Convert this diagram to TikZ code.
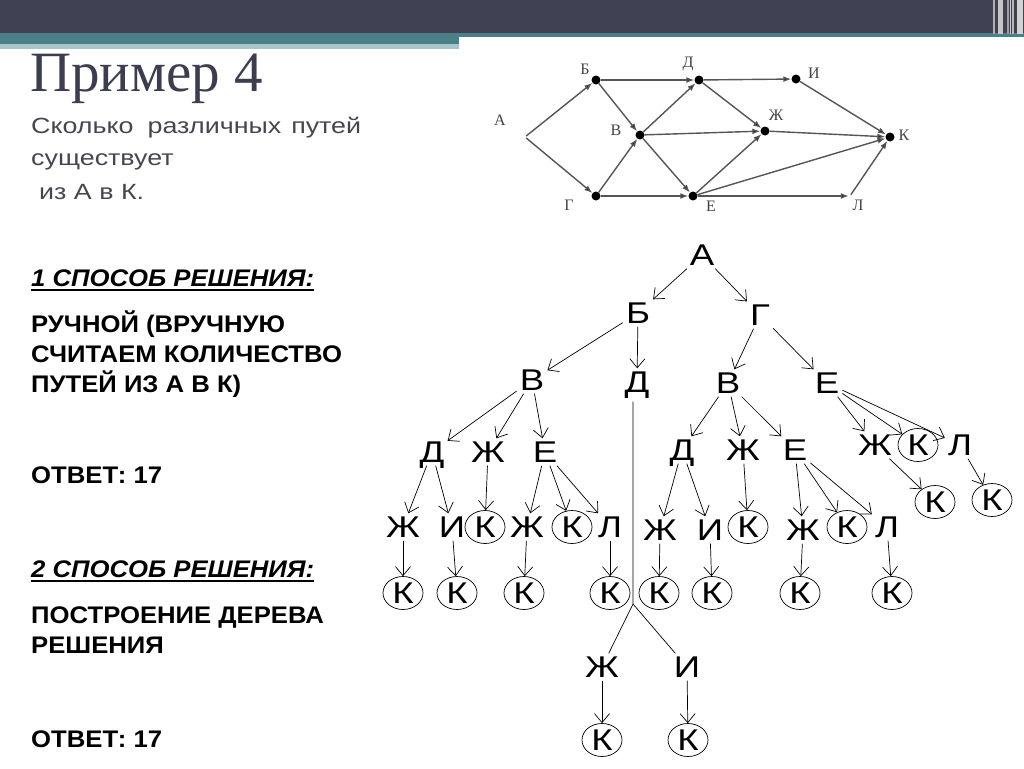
\documentclass[tikz,border=0pt]{standalone}
\usepackage{fontspec}
\setmainfont{Liberation Sans}
\newfontfamily\serifface{Liberation Serif}
\newfontfamily\wideface[FakeStretch=1.22]{Liberation Sans}
\newfontfamily\leftface[FakeStretch=1.07]{Liberation Sans}
\newfontfamily\treeface[FakeStretch=1.22]{Liberation Sans}
\usetikzlibrary{arrows.meta, positioning, shapes.geometric}
\definecolor{barslate}{HTML}{404254}
\definecolor{barteal}{HTML}{4A8088}
\definecolor{barlight}{HTML}{A9C5C7}
\definecolor{titleslate}{HTML}{3C3E4F}
\definecolor{subgray}{HTML}{45464F}
\definecolor{graphgray}{HTML}{555555}
\tikzset{
  letter/.style={font=\treeface\fontsize{30}{30}\selectfont, inner sep=3pt, text height=21pt, text depth=0pt},
  kbox/.style={letter, draw, ellipse, minimum width=40pt, minimum height=33pt, inner sep=0pt, line width=0.7pt},
  tarrow/.style={-{Straight Barb[length=9pt,width=15pt]}, line width=0.7pt},
  tline/.style={line width=0.7pt},
  gdot/.style={circle, fill=black, minimum size=9pt, inner sep=0pt},
  gpoint/.style={inner sep=0pt, minimum size=2pt},
  glabel/.style={font=\serifface\fontsize{16}{16}\selectfont, text=graphgray!80!black, inner sep=0pt},
  gedge/.style={-{Latex[length=8pt,width=6pt]}, draw=graphgray, line width=1.4pt},
  subline/.style={anchor=base west, inner sep=0pt, text=subgray, font=\wideface\fontsize{22}{22}\selectfont},
  lefttext/.style={anchor=base west, inner sep=0pt, font=\leftface\bfseries\fontsize{24}{24}\selectfont},
}

\begin{document}
\begin{tikzpicture}[x=1pt, y=-1pt]
  \useasboundingbox (0,0) rectangle (1024,768);
  \fill[white] (0,0) rectangle (1024,768);

  % top bar
  \fill[barslate] (0,0) rectangle (1024,33);
  \fill[barteal] (0,33) rectangle (1024,37);
  \fill[barteal] (0,37) rectangle (459,44);
  \fill[barlight] (0,44) rectangle (459,49);
  \foreach \sx/\sw/\sc in {993/2/gray!60, 998/5/gray!45, 1007/1.5/gray!75, 1010/1/gray!40, 1012/2/gray!55, 1017/6/gray!35}
    \fill[\sc] (\sx,0) rectangle ++(\sw,34);

  % heading
  \node[anchor=base west, inner sep=0pt, text=titleslate, font=\serifface\fontsize{57}{57}\selectfont] (title) at (30,91) {Пример 4};
  \node[subline] (q1) at (31,133) {Сколько\hspace{14pt}различных\hspace{10pt}путей};
  \node[subline] (q2) at (31,165) {существует};
  \node[subline] (q3) at (39,199) {из А в К.};

  % left column
  \node[lefttext, font=\leftface\bfseries\itshape\fontsize{24}{24}\selectfont] (m1) at (31,286) {1 СПОСОБ РЕШЕНИЯ:};
  \draw[line width=1.6pt] ([yshift=-4pt]m1.base west) -- ([yshift=-4pt]m1.base east);
  \node[lefttext] (r1) at (31,332) {РУЧНОЙ (ВРУЧНУЮ};
  \node[lefttext] (r2) at (31,362) {СЧИТАЕМ КОЛИЧЕСТВО};
  \node[lefttext] (r3) at (31,392) {ПУТЕЙ ИЗ А В К)};
  \node[lefttext] (o1) at (31,483) {ОТВЕТ: 17};
  \node[lefttext, font=\leftface\bfseries\itshape\fontsize{24}{24}\selectfont] (m2) at (31,577) {2 СПОСОБ РЕШЕНИЯ:};
  \draw[line width=1.6pt] ([yshift=-4pt]m2.base west) -- ([yshift=-4pt]m2.base east);
  \node[lefttext] (p1) at (31,623) {ПОСТРОЕНИЕ ДЕРЕВА};
  \node[lefttext] (p2) at (31,653) {РЕШЕНИЯ};
  \node[lefttext] (o2) at (31,747) {ОТВЕТ: 17};

  % the graph
  \node[gpoint] (pa) at (525,137) {};
  \node[gdot] (pb) at (596,80) {};
  \node[gdot] (pd) at (699,80) {};
  \node[gdot] (pi) at (796,79) {};
  \node[gdot] (pv) at (640,135) {};
  \node[gdot] (pzh) at (765,131) {};
  \node[gdot] (pk) at (890,137) {};
  \node[gdot] (pg) at (596,196) {};
  \node[gdot] (pe) at (693,196) {};
  \node[gpoint] (pl) at (850,196) {};

  \node[glabel] (la) at (500,120) {А};
  \node[glabel] (lb) at (585,69) {Б};
  \node[glabel] (ld) at (688,64) {Д};
  \node[glabel] (li) at (814,73) {И};
  \node[glabel] (lv) at (616,130) {В};
  \node[glabel] (lzh) at (776,115) {Ж};
  \node[glabel] (lk) at (904,135) {К};
  \node[glabel] (lg) at (569,205) {Г};
  \node[glabel] (le) at (711,206) {Е};
  \node[glabel] (ll) at (858,205) {Л};

  \draw[gedge] (pa) edge (pb) edge (pg);
  \draw[gedge] (pb) edge (pd) edge (pv);
  \draw[gedge] (pg) edge (pv) edge (pe);
  \draw[gedge] (pv) edge (pd) edge (pzh) edge (pe);
  \draw[gedge] (pd) edge (pi) edge (pzh);
  \draw[gedge] (pe) edge (pzh) edge (pk) edge (pl);
  \draw[gedge] (pi) edge (pk);
  \draw[gedge] (pzh) edge (pk);
  \draw[gedge] (pl) edge (pk);

  % the tree
  \node[letter] (a) at (702,255) {А};
  \node[letter] (ab) at (638,313) {Б};
  \node[letter] (ag) at (760,315) {Г};
  \node[letter] (abv) at (532,380) {В};
  \node[letter] (abd) at (637,382) {Д};
  \node[letter] (agv) at (728,383) {В};
  \node[letter] (age) at (827,383) {Е};

  \node[letter] (abvd) at (432,452) {Д};
  \node[letter] (abvzh) at (488,452) {Ж};
  \node[letter] (abve) at (545,452) {Е};
  \node[letter] (agvd) at (682,450) {Д};
  \node[letter] (agvzh) at (743,450) {Ж};
  \node[letter] (agve) at (795,450) {Е};
  \node[letter] (agezh) at (875,445) {Ж};
  \node[kbox] (agek) at (918,445) {К};
  \node[letter] (agel) at (960,445) {Л};

  \node[letter] (abvdzh) at (403,527) {Ж};
  \node[letter] (abvdi) at (452,527) {И};
  \node[kbox] (abvzhk) at (485,527) {К};
  \node[letter] (abvezh) at (527,527) {Ж};
  \node[kbox] (abvek) at (572,527) {К};
  \node[letter] (abvel) at (610,527) {Л};
  \node[letter] (agvdzh) at (660,530) {Ж};
  \node[letter] (agvdi) at (710,530) {И};
  \node[kbox] (agvzhk) at (748,527) {К};
  \node[letter] (agvezh) at (803,530) {Ж};
  \node[kbox] (agvek) at (847,527) {К};
  \node[letter] (agvel) at (887,527) {Л};
  \node[kbox] (agezhk) at (935,502) {К};
  \node[kbox] (agelk) at (992,500) {К};

  \node[kbox] (abvdzhk) at (403,593) {К};
  \node[kbox] (abvdik) at (457,593) {К};
  \node[kbox] (abvezhk) at (524,593) {К};
  \node[kbox] (abvelk) at (610,593) {К};
  \node[kbox] (agvdzhk) at (659,593) {К};
  \node[kbox] (agvdik) at (712,593) {К};
  \node[kbox] (agvezhk) at (800,593) {К};
  \node[kbox] (agvelk) at (892,593) {К};

  \coordinate (abdsplit) at (633,604);
  \node[letter] (abdzh) at (602,667) {Ж};
  \node[letter] (abdi) at (687,667) {И};
  \node[kbox] (abdzhk) at (602,740) {К};
  \node[kbox] (abdik) at (688,740) {К};

  \draw[tarrow] (a) edge (ab) edge (ag);
  \draw[tarrow] (ab) edge (abv) edge (abd);
  \draw[tarrow] (ag) edge (agv) edge (age);
  \draw[tarrow] (abv) edge (abvd) edge (abvzh) edge (abve);
  \draw[tarrow] (agv) edge (agvd) edge (agvzh) edge (agve);
  \draw[tarrow] (age) edge (agezh) edge (agek) edge (agel);
  \draw[tarrow] (abvd) edge (abvdzh) edge (abvdi);
  \draw[tarrow] (abvzh) edge (abvzhk);
  \draw[tarrow] (abve) edge (abvezh) edge (abvek) edge (abvel);
  \draw[tarrow] (agvd) edge (agvdzh) edge (agvdi);
  \draw[tarrow] (agvzh) edge (agvzhk);
  \draw[tarrow] (agve) edge (agvezh) edge (agvek) edge (agvel);
  \draw[tarrow] (agezh) edge (agezhk);
  \draw[tarrow] (agel) edge (agelk);
  \draw[tarrow] (abvdzh) edge (abvdzhk);
  \draw[tarrow] (abvdi) edge (abvdik);
  \draw[tarrow] (abvezh) edge (abvezhk);
  \draw[tarrow] (abvel) edge (abvelk);
  \draw[tarrow] (agvdzh) edge (agvdzhk);
  \draw[tarrow] (agvdi) edge (agvdik);
  \draw[tarrow] (agvezh) edge (agvezhk);
  \draw[tarrow] (agvel) edge (agvelk);
  \draw[tline] ([yshift=-6pt]abd.south -| abdsplit) -- (abdsplit) -- (abdzh);
  \draw[tline] (abdsplit) -- (abdi);
  \draw[tarrow] (abdzh) edge (abdzhk);
  \draw[tarrow] (abdi) edge (abdik);
\end{tikzpicture}
\end{document}
